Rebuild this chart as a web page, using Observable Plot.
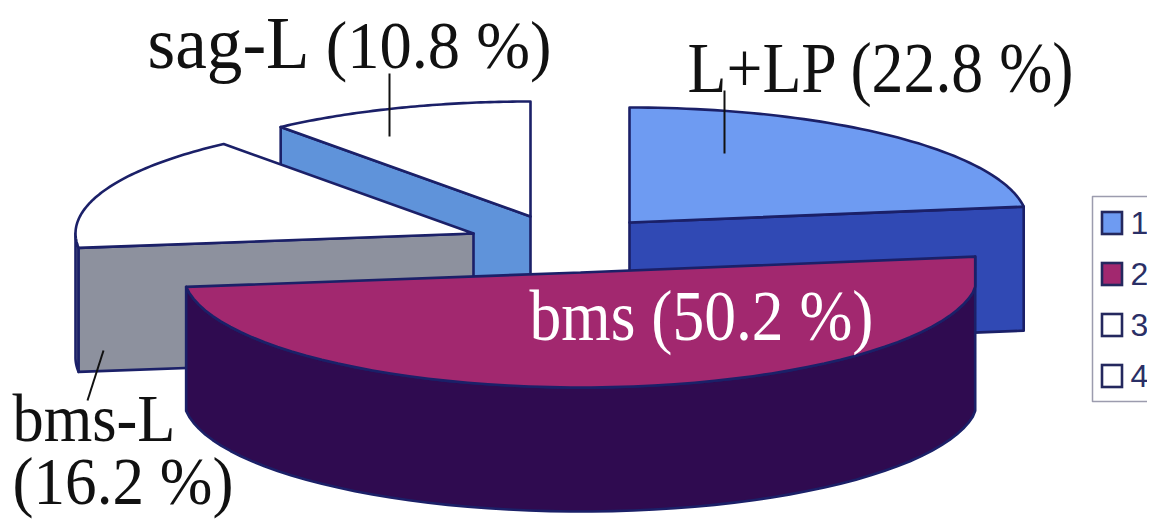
<!DOCTYPE html>
<html>
<head>
<meta charset="utf-8">
<style>
  html, body { margin: 0; padding: 0; background: #fff; overflow: hidden; }
</style>
<script src="https://cdn.jsdelivr.net/npm/d3@7"></script>
<script src="https://cdn.jsdelivr.net/npm/@observablehq/plot@0.6"></script>
</head>
<body>
<div id="chart"></div>
<script>
// Shares of the four groups, clockwise from twelve o'clock.
const categories = ["L+LP", "bms", "bms-L", "sag-L"];
const shares = [22.8, 50.2, 16.2, 10.8];
const legendKeys = ["1", "2", "3", "4"];

// Oblique pie model, in stage units.
const RX = 398, RY = 115, DEPTH = 124;
const centers = [[629, 222], [580.5, 272], [473, 233], [530, 216]];
const topFill = ["#6e9bf2", "#a2286f", "#ffffff", "#ffffff"];
const sideFill = ["#3049b4", "#2f0b50", "#8d919e", "#5f93da"];
const edge = "#1b2068";

// Cumulative start and end angles in degrees.
let running = 0;
const slices = shares.map((v, i) => {
  const start = running * 3.6;
  running += v;
  return {i, name: categories[i], value: v, start, end: running * 3.6, c: centers[i]};
});

const onRim = (s, deg, drop = 0) => {
  const a = deg * Math.PI / 180;
  return {x: s.c[0] + RX * Math.sin(a), y: s.c[1] - RY * Math.cos(a) + drop};
};
const arc = (s, from, to, drop = 0, xMax = Infinity) =>
  d3.range(0, 61).map(k => {
    const p = onRim(s, from + (to - from) * k / 60, drop);
    return {x: Math.min(p.x, xMax), y: p.y};
  });
const apex = (s, drop = 0) => ({x: s.c[0], y: s.c[1] + drop});
const closed = pts => [...pts, pts[0]];

const topFace = (s, xMax) => closed([apex(s), ...arc(s, s.start, s.end, 0, xMax)]);
const wall = (s, from, to, xMax) => closed([...arc(s, from, to, 0, xMax), ...arc(s, to, from, DEPTH, xMax)]);
const radialWall = (s, deg) => closed([apex(s), onRim(s, deg), onRim(s, deg, DEPTH), apex(s, DEPTH)]);

const face = (pts, fill) => Plot.line(pts, {x: "x", y: "y", fill, stroke: edge, strokeWidth: 2.6, strokeLinejoin: "round"});

const [s1, s2, s3, s4] = slices;
// The large slice's side stays flush with its right corner.
const bmsLimit = onRim(s2, s2.start).x;

// Paint back to front: sag-L, L+LP, bms-L, then bms.
const pieMarks = [
  face(radialWall(s4, s4.start), sideFill[3]),
  face(topFace(s4), topFill[3]),
  face(radialWall(s1, s1.end), sideFill[0]),
  face(topFace(s1), topFill[0]),
  face(wall(s3, s3.start, 270), sideFill[2]),
  face(radialWall(s3, s3.start), sideFill[2]),
  face(topFace(s3), topFill[2]),
  face(wall(s2, s2.start, s2.end, bmsLimit), sideFill[1]),
  face(topFace(s2, bmsLimit), topFill[1])
];

const pct = i => `(${shares[i].toFixed(1)} %)`;
// Labels are set tall and narrow: each is squeezed to a measured width.
const annotations = [
  {text: `${categories[3]} ${pct(3)}`, x: 147, base: 67, size: 68, width: 404, fill: "#111", head: categories[3], headSize: 75},
  {text: `${categories[0]} ${pct(0)}`, x: 687, base: 91, size: 72, width: 386, fill: "#111"},
  {text: `${categories[1]} ${pct(1)}`, x: 529, base: 339, size: 71, width: 344, fill: "#fff"}
];
// The two-line label shares one text element, one width per line.
const stacked = {
  text: `${categories[2]}\n${pct(2)}`, x: 12, base: 444, size: 68, leading: 63 / 68,
  widths: [163, 221], fill: "#111"
};
const leaders = [
  {x1: 389, y1: 73, x2: 389, y2: 136},
  {x1: 724, y1: 90, x2: 724, y2: 153},
  {x1: 103, y1: 350, x2: 87, y2: 400}
];

const legendRows = legendKeys.map((k, i) => ({
  key: k,
  y: [223, 274, 325, 376][i],
  fill: i < 2 ? topFill[i] : "#ffffff"
}));

const chart = Plot.plot({
  width: 1154,
  height: 522,
  margin: 0,
  x: {domain: [0, 1154], range: [0, 1154], axis: null},
  y: {domain: [0, 522], range: [0, 522], axis: null},
  style: {background: "#fff"},
  marks: [
    ...pieMarks,
    ...annotations.map(a => Plot.text([a], {
      x: "x", y: d => d.base - 0.71 * d.size, text: "text", textAnchor: "start", lineAnchor: "top",
      fontFamily: "Liberation Serif", fontSize: a.size, fill: a.fill
    })),
    Plot.text([stacked], {
      x: "x", y: d => d.base - 0.71 * d.size, text: "text", textAnchor: "start", lineAnchor: "top",
      lineHeight: stacked.leading, fontFamily: "Liberation Serif", fontSize: stacked.size, fill: stacked.fill
    }),
    Plot.link(leaders, {x1: "x1", y1: "y1", x2: "x2", y2: "y2", stroke: "#111", strokeWidth: 2}),
    // Legend frame, open on the right where the panel is cut off.
    Plot.line([{x: 1147, y: 196}, {x: 1092, y: 196}, {x: 1092, y: 401}, {x: 1147, y: 401}],
      {x: "x", y: "y", stroke: "#9c9cae", strokeWidth: 1.5}),
    Plot.rect(legendRows, {
      x1: () => 1102, x2: () => 1122,
      y1: d => d.y - 11, y2: d => d.y + 11,
      fill: "fill", stroke: "#24285e", strokeWidth: 2.6
    }),
    Plot.text(legendRows, {
      x: () => 1130, y: "y", text: "key", textAnchor: "start",
      fontFamily: "Liberation Sans", fontSize: 32, fill: "#2a2f66"
    }),
    // Everything past the panel's right edge is blank.
    Plot.rect([{}], {x1: () => 1147, x2: () => 1154, y1: () => 0, y2: () => 522, fill: "#fff"})
  ]
});

// Squeeze each label to its width; a larger head word gets its own run.
const texts = Array.from(chart.querySelectorAll("text"));
for (const a of annotations) {
  const el = texts.find(t => t.textContent === a.text);
  if (!el) continue;
  if (a.head) {
    const rest = a.text.slice(a.head.length);
    el.textContent = "";
    const head = document.createElementNS("http://www.w3.org/2000/svg", "tspan");
    head.setAttribute("font-size", a.headSize);
    head.textContent = a.head;
    el.appendChild(head);
    el.appendChild(document.createTextNode(rest));
  }
  el.setAttribute("textLength", a.width);
  el.setAttribute("lengthAdjust", "spacingAndGlyphs");
}
const stackedEl = texts.find(t => t.querySelectorAll("tspan").length === 2);
if (stackedEl) {
  stackedEl.querySelectorAll("tspan").forEach((t, i) => {
    t.setAttribute("textLength", stacked.widths[i]);
    t.setAttribute("lengthAdjust", "spacingAndGlyphs");
  });
}

document.getElementById("chart").appendChild(chart);
</script>
</body>
</html>
